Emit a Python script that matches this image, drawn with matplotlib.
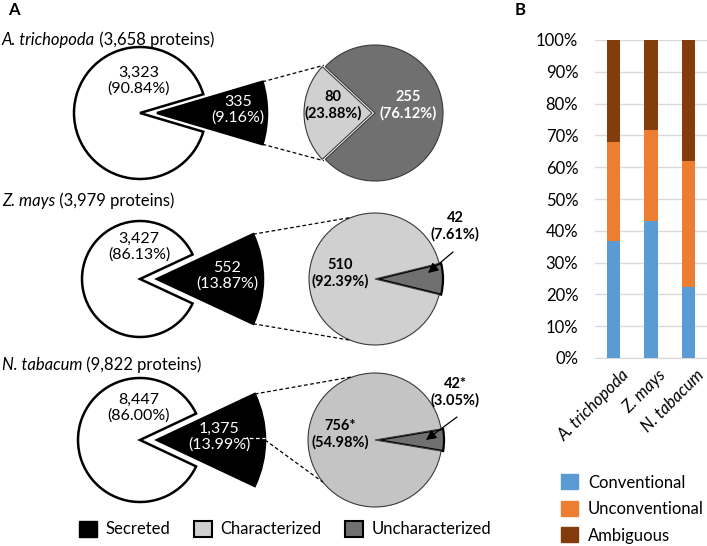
import matplotlib

matplotlib.use("Agg")
import matplotlib.pyplot as plt
import matplotlib.transforms as mtransforms
from matplotlib.patches import Patch
import numpy as np

plt.rcParams["font.family"] = ["Lato", "DejaVu Sans"]

# ---- panel A data ----
species = ["A. trichopoda", "Z. mays", "N. tabacum"]
total_proteins = [3658, 3979, 9822]
other = [3323, 3427, 8447]
other_pct = [90.84, 86.13, 86.00]
secreted = [335, 552, 1375]
secreted_pct = [9.16, 13.87, 13.99]
characterized = [80, 510, 756]
characterized_pct = [23.88, 92.39, 54.98]
uncharacterized = [255, 42, 42]
uncharacterized_pct = [76.12, 7.61, 3.05]
star = ["", "", "*"]

# ---- panel B data (% of secreted proteins) ----
conventional = [36.7, 43.2, 22.3]
unconventional = [31.1, 28.4, 39.7]
ambiguous = [32.2, 28.4, 38.0]

W, H = 707, 546
fig = plt.figure(figsize=(W / 100, H / 100), dpi=100)

# panel A drawn in a pixel-coordinate axes
ax = fig.add_axes([0, 0, 1, 1])

row_y = [113, 279, 440]
title_y = [40, 201, 365]
left_cx = 145
left_r = [66, 58, 62]
black_tip = 157
black_r = [110, 106, 108]
black_lab_x = [238, 227, 219]
right_cx = 375
right_r = [68, 66, 67]
light = ["#d0d0d0", "#d0d0d0", "#c4c4c4"]
dark = "#707070"
up_end = [137, 111, 109]
low_end = [-137, -112, -141]
note_dy = [0, -53, -48]
arrow_from = [None, (453, -27), (457, -23)]
arrow_to = [None, (428, -6), (426, 0)]

for i in range(3):
    cy = row_y[i]
    # title: italic species + regular count
    t = ax.text(2, title_y[i], species[i], style="italic", fontsize=12,
                ha="left", va="center")
    ax.annotate(f" ({total_proteins[i]:,} proteins)", xy=(1, 0), xycoords=t,
                ha="left", va="bottom", fontsize=12)

    # left pie: secreted vs rest
    f_sec = secreted[i] / (secreted[i] + other[i])
    wedges, _ = ax.pie([secreted[i], other[i]], center=(left_cx, cy),
                       radius=left_r[i], startangle=-180 * f_sec,
                       explode=[0, 5], colors=["black", "white"],
                       wedgeprops=dict(edgecolor="black", linewidth=1.8))
    wedges[0].set_center((black_tip, cy))
    wedges[0].set_radius(black_r[i])
    ax.text(left_cx - 6, cy - 32, f"{other[i]:,}\n({other_pct[i]:.2f}%)",
            ha="center", va="center", fontsize=11.5, linespacing=1.15)
    ax.text(black_lab_x[i], cy - 3,
            f"{secreted[i]:,}\n({secreted_pct[i]:.2f}%)", color="white",
            ha="center", va="center", fontsize=11.5, linespacing=1.15)

    # right pie: characterized vs uncharacterized
    if i == 0:
        fc = characterized[i] / (characterized[i] + uncharacterized[i])
        rw, _ = ax.pie([characterized[i], uncharacterized[i]],
                       center=(right_cx, cy), radius=right_r[i],
                       startangle=180 - 180 * fc, explode=[3, 0],
                       colors=[light[i], dark],
                       wedgeprops=dict(edgecolor="#3a3a3a", linewidth=0.8))
        ax.text(right_cx - 42, cy - 8,
                f"{characterized[i]}\n({characterized_pct[i]:.2f}%)",
                ha="center", va="center", fontsize=10.5, weight="bold",
                linespacing=1.15)
        ax.text(right_cx + 33, cy - 8,
                f"{uncharacterized[i]}\n({uncharacterized_pct[i]:.2f}%)",
                color="white", ha="center", va="center", fontsize=10.5,
                weight="bold", linespacing=1.15)
    else:
        fu = uncharacterized[i] / (characterized[i] + uncharacterized[i])
        rw, _ = ax.pie([uncharacterized[i], characterized[i]],
                       center=(right_cx, cy), radius=right_r[i],
                       startangle=-180 * fu, explode=[2, 0],
                       colors=[dark, light[i]],
                       wedgeprops=dict(edgecolor="#3a3a3a", linewidth=0.8))
        rw[0].set_edgecolor("black")
        rw[0].set_linewidth(1.6)
        ax.text(right_cx - 35, cy - 6,
                f"{characterized[i]}{star[i]}\n({characterized_pct[i]:.2f}%)",
                ha="center", va="center", fontsize=10.5, weight="bold",
                linespacing=1.15)
        ax.text(455, cy + note_dy[i],
                f"{uncharacterized[i]}{star[i]}\n({uncharacterized_pct[i]:.2f}%)",
                ha="center", va="center", fontsize=10.5, weight="bold",
                linespacing=1.15)
        ax.annotate("", xy=(arrow_to[i][0], cy + arrow_to[i][1]),
                    xytext=(arrow_from[i][0], cy + arrow_from[i][1]),
                    arrowprops=dict(arrowstyle="-|>", color="black", lw=0.9,
                                    shrinkA=0, shrinkB=0, mutation_scale=15))

    # dashed connectors between the secreted slice and the right pie
    h = np.deg2rad(180 * f_sec)
    up_start = (black_tip + black_r[i] * np.cos(h), cy - black_r[i] * np.sin(h))
    low_start = (black_tip + black_r[i] * np.cos(h), cy + black_r[i] * np.sin(h))
    if i == 2:
        low_start = (black_tip + black_r[i], cy)
        ax.plot([black_tip + 0.8 * black_r[i], black_tip + black_r[i]],
                [cy - 2, cy - 2], color="white", lw=0.9, ls=(0, (3, 2)))
    ue = np.deg2rad(up_end[i])
    le = np.deg2rad(low_end[i])
    rr = right_r[i] + (2 if i == 0 else 0)
    ax.plot([up_start[0], right_cx + rr * np.cos(ue)],
            [up_start[1], cy - rr * np.sin(ue)], color="black", lw=0.9,
            ls=(0, (3, 2)))
    ax.plot([low_start[0], right_cx + rr * np.cos(le)],
            [low_start[1], cy - rr * np.sin(le)], color="black", lw=0.9,
            ls=(0, (3, 2)))

ax.set_xlim(0, W)
ax.set_ylim(H, 0)
ax.set_aspect("auto")
ax.axis("off")

fig.legend(handles=[Patch(facecolor="black", edgecolor="black"),
                    Patch(facecolor="#d0d0d0", edgecolor="black", lw=1.5),
                    Patch(facecolor=dark, edgecolor="black", lw=1.5)],
           labels=["Secreted", "Characterized", "Uncharacterized"],
           loc="center", bbox_to_anchor=(285 / W, 1 - 529 / H), ncol=3,
           frameon=False, fontsize=12, handlelength=1.1, handleheight=1.1,
           handletextpad=0.5, columnspacing=1.4, borderpad=0)

# ---- panel B ----
axb = fig.add_axes([595 / W, 188 / H, 112 / W, 318 / H])
x = np.arange(len(species))
conv = np.array(conventional)
unconv = np.array(unconventional)
amb = np.array(ambiguous)
axb.bar(x, conv, width=0.35, color="#5b9bd5", label="Conventional", zorder=3)
axb.bar(x, unconv, width=0.35, bottom=conv, color="#ed7d31",
        label="Unconventional", zorder=3)
axb.bar(x, amb, width=0.35, bottom=conv + unconv, color="#843c0c",
        label="Ambiguous", zorder=3)
axb.set_xlim(-0.5, 2.5)
axb.set_ylim(0, 100)
axb.set_yticks(np.arange(0, 101, 10))
axb.set_yticklabels([f"{v}%" for v in range(0, 101, 10)], fontsize=12)
axb.yaxis.grid(True, color="#d9d9d9", lw=1)
axb.set_axisbelow(True)
for s in ["top", "right", "left"]:
    axb.spines[s].set_visible(False)
axb.spines["bottom"].set_color("#d9d9d9")
axb.tick_params(axis="y", length=0, pad=12)
axb.tick_params(axis="x", length=0, pad=0)
axb.set_xticks(x)
axb.set_xticklabels(species, rotation=45, ha="right", rotation_mode="anchor",
                    style="italic", fontsize=12)
offset = mtransforms.ScaledTranslation(0.07, -0.09, fig.dpi_scale_trans)
for lab in axb.get_xticklabels():
    lab.set_transform(lab.get_transform() + offset)

fig.legend(handles=[Patch(color="#5b9bd5"), Patch(color="#ed7d31"),
                    Patch(color="#843c0c")],
           labels=["Conventional", "Unconventional", "Ambiguous"],
           loc="upper left", bbox_to_anchor=(553 / W, 1 - 466 / H),
           frameon=False, fontsize=12, handlelength=1.0, handleheight=1.0,
           handletextpad=0.6, labelspacing=0.62, borderpad=0)

fig.text(8 / W, 1 - 10 / H, "A", weight="bold", fontsize=12, va="center")
fig.text(515 / W, 1 - 10 / H, "B", weight="bold", fontsize=12, va="center")

fig.savefig("out.png", dpi=100)
